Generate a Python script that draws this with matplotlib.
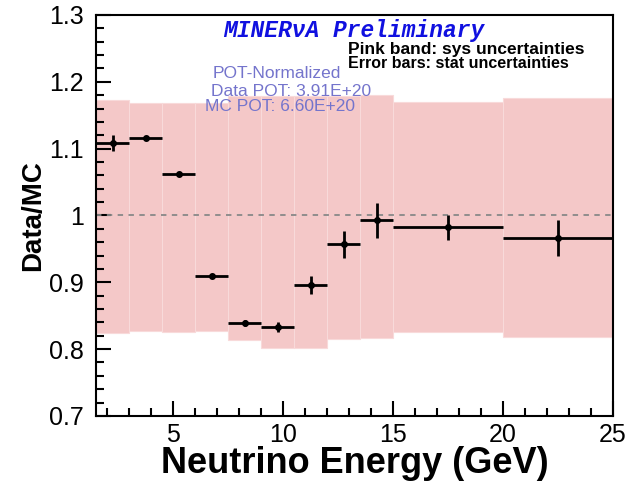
import numpy as np
import matplotlib.pyplot as plt
from matplotlib.ticker import MultipleLocator

# Energy bins (GeV) and data/MC ratio per bin
bin_edges = [1.5, 3, 4.5, 6, 7.5, 9, 10.5, 12, 13.5, 15, 20, 25]
ratio = [1.108, 1.116, 1.062, 0.909, 0.839, 0.833, 0.896, 0.957, 0.993, 0.982, 0.966]
stat_err = [0.012, 0.003, 0.003, 0.003, 0.004, 0.007, 0.014, 0.020, 0.026, 0.019, 0.027]

# Systematic band, upper and lower edge per bin
sys_high = [1.172, 1.168, 1.168, 1.168, 1.178, 1.178, 1.178, 1.178, 1.180, 1.169, 1.175]
sys_low = [0.824, 0.827, 0.826, 0.827, 0.813, 0.801, 0.802, 0.815, 0.817, 0.826, 0.818]

pot_lines = ["POT-Normalized", "Data POT: 3.91E+20", "MC POT: 6.60E+20"]

edges = np.array(bin_edges)
widths = np.diff(edges)
centers = edges[:-1] + widths / 2
lo = np.array(sys_low)
hi = np.array(sys_high)

plt.rcParams['font.family'] = ['Liberation Sans', 'DejaVu Sans']

fig = plt.figure(figsize=(6.32, 4.82), dpi=100)
ax = fig.add_axes([0.152, 0.137, 0.818, 0.832])

# sys band
ax.bar(edges[:-1], hi - lo, width=widths, bottom=lo, align='edge',
       color='#f4c8c8', edgecolor='#f8dada', linewidth=0.8, zorder=1)

ax.axhline(1.0, color='#888888', linestyle=(0, (3, 3)), linewidth=1.3, zorder=2)

# stat error bars
ax.errorbar(centers, ratio, xerr=widths / 2, yerr=stat_err, fmt='o',
            color='black', markersize=4, elinewidth=2, capsize=0, zorder=3)

ax.set_xlim(1.5, 25)
ax.set_ylim(0.7, 1.3)
ax.xaxis.set_major_locator(MultipleLocator(5))
ax.xaxis.set_minor_locator(MultipleLocator(1))
ax.yaxis.set_minor_locator(MultipleLocator(0.02))
ax.set_yticks(np.arange(0.7, 1.31, 0.1))
ax.set_yticklabels(['0.7', '0.8', '0.9', '1', '1.1', '1.2', '1.3'])
ax.tick_params(which='both', direction='in', top=False, right=False,
               labelsize=18, width=1.5)
ax.tick_params(which='major', length=11)
ax.tick_params(which='minor', length=6)
ax.tick_params(axis='y', which='major', pad=9)
ax.tick_params(axis='x', which='major', pad=5)
for s in ax.spines.values():
    s.set_linewidth(1.5)

ax.set_ylabel('Data/MC', fontsize=20, fontweight='bold', labelpad=2)
fig.text(0.561, 0.018, 'Neutrino Energy (GeV)', ha='center', va='baseline',
         fontsize=26, fontweight='bold')

ax.text(0.499, 0.960, 'MINER\u03bdA Preliminary', transform=ax.transAxes,
        ha='center', va='center', color='#1010e0', fontsize=16.5,
        fontweight='bold', fontstyle='italic',
        family=['Liberation Mono', 'DejaVu Sans'])
ax.text(0.487, 0.914, 'Pink band: sys uncertainties', transform=ax.transAxes,
        ha='left', va='center', fontsize=12.5, fontweight='bold')
ax.text(0.487, 0.880, 'Error bars: stat uncertainties', transform=ax.transAxes,
        ha='left', va='center', fontsize=11.5, fontweight='bold')

pot_x = [0.350, 0.377, 0.356]
pot_y = [0.853, 0.810, 0.772]
for txt, xx, yy in zip(pot_lines, pot_x, pot_y):
    ax.text(xx, yy, txt, transform=ax.transAxes, ha='center', va='center',
            color='#7474cc', fontsize=12.5)

fig.savefig('out.png', dpi=100)
